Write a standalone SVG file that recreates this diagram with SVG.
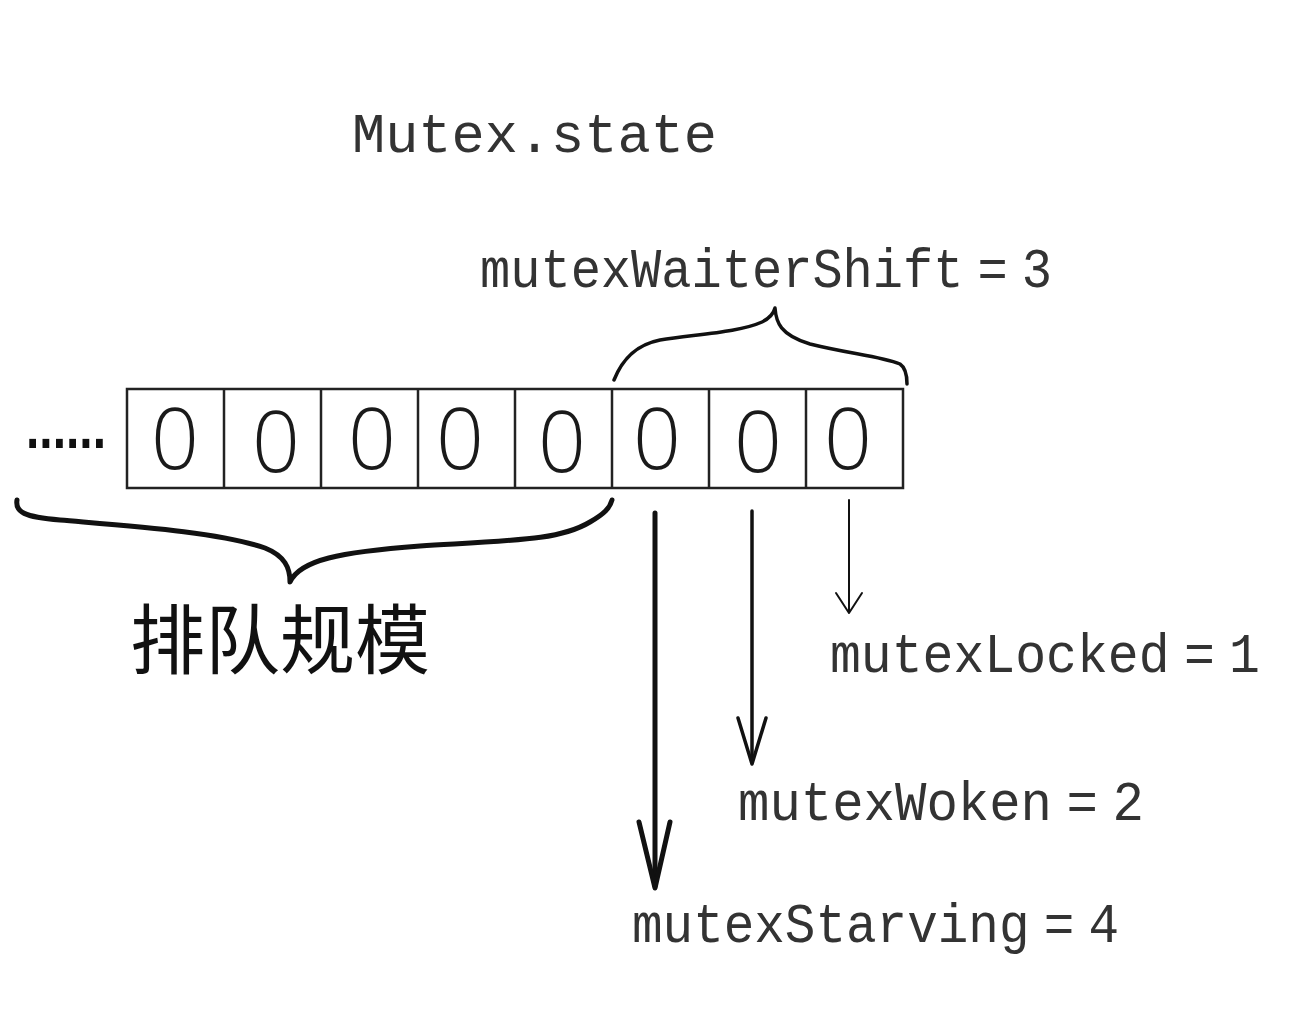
<svg xmlns="http://www.w3.org/2000/svg" width="1312" height="1012" viewBox="0 0 1312 1012">
<style>
.mono{font-family:"Liberation Mono","Courier New",monospace;fill:#333;font-size:56px;word-spacing:-18px}
.zero{font-family:"Open Sans","Liberation Sans",sans-serif;font-weight:300;font-size:84px;fill:#1a1a1a;text-anchor:middle}
.cell{fill:none;stroke:#222;stroke-width:2.5}
.brace{fill:none;stroke:#111;stroke-linecap:round;stroke-linejoin:round}
.cjk{font-family:"Noto Sans CJK SC","Noto Sans CJK TC",sans-serif;font-size:76px;fill:#111}
</style>
<rect width="1312" height="1012" fill="#ffffff"/>
<g id="title"><text class="mono" x="352" y="152" textLength="365" lengthAdjust="spacingAndGlyphs" font-size="62">Mutex.state</text></g>
<g id="dots"><text x="26" y="448" font-family="Liberation Sans,sans-serif" font-size="62" font-weight="bold" fill="#111" textLength="80" lengthAdjust="spacingAndGlyphs">......</text></g>
<g id="bits">
<rect class="cell" x="127" y="389" width="776" height="99"/>
<line class="cell" x1="224" y1="389" x2="224" y2="488"/>
<line class="cell" x1="321" y1="389" x2="321" y2="488"/>
<line class="cell" x1="418" y1="389" x2="418" y2="488"/>
<line class="cell" x1="515" y1="389" x2="515" y2="488"/>
<line class="cell" x1="612" y1="389" x2="612" y2="488"/>
<line class="cell" x1="709" y1="389" x2="709" y2="488"/>
<line class="cell" x1="806" y1="389" x2="806" y2="488"/>
<text class="zero" x="175" y="469">0</text>
<text class="zero" x="276" y="472">0</text>
<text class="zero" x="372" y="469">0</text>
<text class="zero" x="460" y="469">0</text>
<text class="zero" x="562" y="472">0</text>
<text class="zero" x="657" y="469">0</text>
<text class="zero" x="758" y="472">0</text>
<text class="zero" x="848" y="469">0</text>
</g>
<g id="queue-brace"><path class="brace" stroke-width="5" d="M17,500 C15,512 24,517 60,520 C130,526 220,532 265,548 C285,556 290,568 290,582 C300,560 340,552 420,546 C520,540 560,540 590,522 C604,514 610,508 612,500"/></g>
<g id="queue-label"><text class="cjk" x="130" y="668" textLength="300" lengthAdjust="spacingAndGlyphs">排队规模</text></g>
<g id="shift-brace"><path class="brace" stroke-width="3.5" d="M614,380 C622,360 635,345 660,340 C700,334 740,332 762,322 C770,318 774,312 775,308 C776,322 780,335 810,344 C850,354 880,356 900,364 C906,368 907,376 907,384"/></g>
<g id="shift-label"><text class="mono" x="480" y="287" textLength="572" lengthAdjust="spacingAndGlyphs">mutexWaiterShift = 3</text></g>
<g id="connectors" fill="none" stroke="#111" stroke-linecap="round" stroke-linejoin="round">
<line x1="655" y1="513" x2="655" y2="886" stroke-width="5"/>
<polyline points="639,822 655,888 670,822" stroke-width="5"/>
<line x1="752" y1="511" x2="752" y2="762" stroke-width="3.5"/>
<polyline points="738,718 752,764 766,718" stroke-width="3.5"/>
<line x1="849" y1="500" x2="849" y2="611" stroke-width="2"/>
<polyline points="836,593 849,613 862,593" stroke-width="2"/>
</g>
<g id="locked"><text class="mono" x="830" y="672" textLength="430" lengthAdjust="spacingAndGlyphs">mutexLocked = 1</text></g>
<g id="woken"><text class="mono" x="738" y="820" textLength="406" lengthAdjust="spacingAndGlyphs">mutexWoken = 2</text></g>
<g id="starving"><text class="mono" x="632" y="942" textLength="487" lengthAdjust="spacingAndGlyphs">mutexStarving = 4</text></g>
</svg>
